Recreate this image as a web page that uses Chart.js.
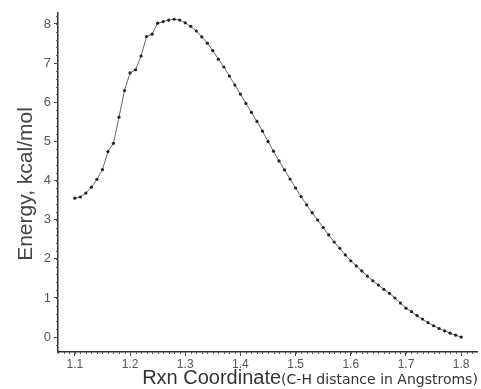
<!DOCTYPE html>
<html lang="en">
<head>
  <meta charset="UTF-8">
  <title>Energy profile along C-H coordinate</title>
  <style>
    body { margin: 0; background: #fff; }
    #wrap { position: relative; width: 481px; height: 389px; }
  </style>
</head>
<body>
  <div id="wrap"><canvas id="chart"></canvas></div>

  <script src="https://cdn.jsdelivr.net/npm/chart.js"></script>
  <script>
    // C-H distance (Angstroms), 0.01 steps from 1.10 to 1.80
    const distances = [
      1.10, 1.11, 1.12, 1.13, 1.14, 1.15, 1.16, 1.17, 1.18, 1.19,
      1.20, 1.21, 1.22, 1.23, 1.24, 1.25, 1.26, 1.27, 1.28, 1.29,
      1.30, 1.31, 1.32, 1.33, 1.34, 1.35, 1.36, 1.37, 1.38, 1.39,
      1.40, 1.41, 1.42, 1.43, 1.44, 1.45, 1.46, 1.47, 1.48, 1.49,
      1.50, 1.51, 1.52, 1.53, 1.54, 1.55, 1.56, 1.57, 1.58, 1.59,
      1.60, 1.61, 1.62, 1.63, 1.64, 1.65, 1.66, 1.67, 1.68, 1.69,
      1.70, 1.71, 1.72, 1.73, 1.74, 1.75, 1.76, 1.77, 1.78, 1.79,
      1.80
    ];

    // relative energy, kcal/mol
    const energies = [
      3.55, 3.58, 3.68, 3.83, 4.03, 4.28, 4.74, 4.95, 5.62, 6.30,
      6.75, 6.83, 7.18, 7.68, 7.74, 8.02, 8.06, 8.10, 8.12, 8.10,
      8.03, 7.94, 7.82, 7.67, 7.51, 7.32, 7.10, 6.90, 6.67, 6.44,
      6.21, 5.97, 5.74, 5.51, 5.26, 5.00, 4.75, 4.50, 4.27, 4.04,
      3.81, 3.59, 3.38, 3.18, 2.99, 2.80, 2.61, 2.43, 2.27, 2.10,
      1.95, 1.82, 1.69, 1.56, 1.44, 1.33, 1.22, 1.12, 1.00, 0.87,
      0.74, 0.65, 0.55, 0.46, 0.37, 0.29, 0.22, 0.16, 0.10, 0.05,
      0.00
    ];

    const xTicks = [1.1, 1.2, 1.3, 1.4, 1.5, 1.6, 1.7, 1.8];
    const yTicks = [0, 1, 2, 3, 4, 5, 6, 7, 8];

    const points = distances.map((d, i) => ({ x: d, y: energies[i] }));

    // small unlabelled ticks between the major ones
    const minorTicks = {
      id: 'minorTicks',
      afterDraw(chart) {
        const { ctx, chartArea, scales } = chart;
        ctx.save();
        ctx.strokeStyle = '#555';
        ctx.lineWidth = 1;
        ctx.beginPath();
        for (let v = 1.07; v <= 1.829; v += 0.01) {
          const px = Math.round(scales.x.getPixelForValue(v)) + 0.5;
          ctx.moveTo(px, chartArea.bottom);
          ctx.lineTo(px, chartArea.bottom + 2);
        }
        for (let v = -0.2; v <= 8.3; v += 0.2) {
          const py = Math.round(scales.y.getPixelForValue(v)) + 0.5;
          ctx.moveTo(chartArea.left, py);
          ctx.lineTo(chartArea.left - 2, py);
        }
        ctx.stroke();
        ctx.restore();
      }
    };

    // axis titles: the x title mixes two font sizes
    const axisTitles = {
      id: 'axisTitles',
      afterDraw(chart) {
        const { ctx } = chart;
        const main = 'Rxn Coordinate';
        const sub = '(C-H distance in Angstroms)';
        const bigFont = '20px "Liberation Sans", Arial, sans-serif';
        const smallFont = '14px "DejaVu Sans", Verdana, sans-serif';
        ctx.save();
        ctx.fillStyle = '#333';
        ctx.textBaseline = 'alphabetic';
        ctx.font = bigFont;
        const w1 = ctx.measureText(main).width;
        ctx.font = smallFont;
        const w2 = ctx.measureText(sub).width;
        const x = 310 - (w1 + w2) / 2;
        ctx.font = bigFont;
        ctx.fillText(main, x, 384);
        ctx.font = smallFont;
        ctx.fillText(sub, x + w1, 384);

        ctx.translate(26, 184);
        ctx.rotate(-Math.PI / 2);
        ctx.textAlign = 'center';
        ctx.textBaseline = 'middle';
        ctx.fillStyle = '#444';
        ctx.font = '21px "Liberation Sans", Arial, sans-serif';
        ctx.fillText('Energy, kcal/mol', 0, 0);
        ctx.restore();
      }
    };

    new Chart(document.getElementById('chart'), {
      type: 'line',
      data: {
        datasets: [{
          data: points,
          borderColor: '#666',
          borderWidth: 1,
          pointRadius: 1.6,
          pointBackgroundColor: '#222',
          pointBorderWidth: 0,
          tension: 0
        }]
      },
      options: {
        responsive: true,
        maintainAspectRatio: false,
        animation: false,
        layout: { padding: { top: 13, right: 0, left: 0, bottom: 0 } },
        plugins: {
          legend: { display: false },
          tooltip: { enabled: false }
        },
        scales: {
          x: {
            type: 'linear',
            min: 1.0695,
            max: 1.8287,
            afterBuildTicks: s => { s.ticks = xTicks.map(v => ({ value: v })); },
            afterFit: s => { s.height = 37; },
            border: { display: true, color: '#333', width: 1.5 },
            grid: { drawOnChartArea: false, drawTicks: true, tickLength: 4, tickColor: '#444' },
            ticks: {
              padding: 1,
              color: '#555',
              font: { family: '"Liberation Sans", Arial, sans-serif', size: 12 },
              callback: v => v.toFixed(1)
            }
          },
          y: {
            min: -0.38,
            max: 8.28,
            afterBuildTicks: s => { s.ticks = yTicks.map(v => ({ value: v })); },
            afterFit: s => { s.width = 58; },
            border: { display: true, color: '#333', width: 1.5 },
            grid: { drawOnChartArea: false, drawTicks: true, tickLength: 4, tickColor: '#444' },
            ticks: {
              padding: 3,
              color: '#555',
              font: { family: '"Liberation Sans", Arial, sans-serif', size: 13 },
              callback: v => String(v)
            }
          }
        }
      },
      plugins: [minorTicks, axisTitles]
    });
  </script>
</body>
</html>
